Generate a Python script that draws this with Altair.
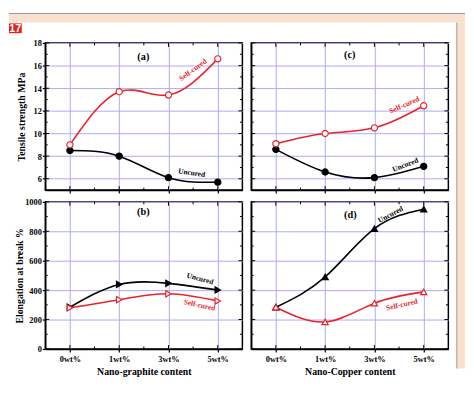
import json
import altair as alt
import pandas as pd

# ---------------- data ----------------
x_labels = ["0wt%", "1wt%", "3wt%", "5wt%"]
x_idx = [0, 1, 2, 3]
x_minor = [0.5, 1.5, 2.5]

# (a) Tensile strength, nano-graphite
a_self = [9.0, 13.7, 13.4, 16.6]
a_unc = [8.5, 8.0, 6.1, 5.7]
# (c) Tensile strength, nano-copper
c_self = [9.1, 10.0, 10.5, 12.45]
c_unc = [8.6, 6.6, 6.1, 7.1]
# (b) Elongation, nano-graphite
b_self = [280, 335, 375, 326]
b_unc = [284, 439, 446, 401]
# (d) Elongation, nano-copper
d_self = [284, 184, 311, 388]
d_unc = [284, 490, 818, 950]

ts_ticks = [6, 8, 10, 12, 14, 16, 18]
ts_minor = [7, 9, 11, 13, 15, 17]
el_ticks = [0, 200, 400, 600, 800, 1000]
el_minor = [100, 300, 500, 700, 900]

# annotations: (text, index position, value, angle, colour key)
ann_a = [("Self-cured", 2.50, 15.6, 324, "r"), ("Uncured", 2.47, 6.5, 8, "k"), ("(a)", 1.49, 16.8, 0, "p")]
ann_c = [("Self-cured", 2.61, 12.5, 336, "r"), ("Uncured", 2.63, 7.2, 339, "k"), ("(c)", 1.5, 16.95, 0, "p")]
ann_b = [("Uncured", 2.64, 475, 15, "k"), ("Self-cured", 2.63, 296, 12, "r"), ("(b)", 1.49, 934, 0, "p")]
ann_d = [("Uncured", 2.33, 912, 332, "k"), ("Self-cured", 2.56, 299, 347, "r"), ("(d)", 1.51, 907, 0, "p")]

RED = "#e8232b"
FONT = "Liberation Serif"
GRID = "#aaaaf6"
PEACH = "#fae1cf"

W = 201
H = 150
label_expr = json.dumps(x_labels) + "[datum.value]"


def panel(self_vals, unc_vals, shape, ydom, yticks, yminor, ytitle, xtitle, left, bottom, anns, h,
          title_x=-24, extras=None):
    if bottom:
        xaxis = alt.Axis(values=x_idx, labelExpr=label_expr, title=xtitle, grid=True,
                         labelPadding=3, titlePadding=4)
    else:
        xaxis = alt.Axis(values=x_idx, labels=False, title=None, grid=True)
    if left:
        yaxis = alt.Axis(values=yticks, title=ytitle, grid=True, titleX=title_x, titleY=h / 2,
                         titleBaseline="middle", titleAngle=270, format="d")
    else:
        yaxis = alt.Axis(values=yticks, labels=False, title=None, grid=True, ticks=False)
    X = alt.X("i:Q", scale=alt.Scale(domain=[-0.5, 3.5], nice=False, zero=False), axis=xaxis)
    Y = alt.Y("v:Q", scale=alt.Scale(domain=ydom, nice=False, zero=False), axis=yaxis)

    layers = []
    # inward (mirrored) ticks, Origin style
    for vals, ln in [(x_idx, 4), (x_minor, 2.5)]:
        tdf = pd.DataFrame({"i": vals})
        layers.append(alt.Chart(tdf).mark_rule(color="black", strokeWidth=1).encode(
            x=X, y=alt.value(h), y2=alt.value(h - ln)))
        layers.append(alt.Chart(tdf).mark_rule(color="black", strokeWidth=1).encode(
            x=X, y=alt.value(0), y2=alt.value(ln)))
    for vals, ln in [(yticks, 4), (yminor, 2.5)]:
        tdf = pd.DataFrame({"v": vals})
        layers.append(alt.Chart(tdf).mark_rule(color="black", strokeWidth=1).encode(
            y=Y, x=alt.value(0), x2=alt.value(ln)))
        layers.append(alt.Chart(tdf).mark_rule(color="black", strokeWidth=1).encode(
            y=Y, x=alt.value(W - ln), x2=alt.value(W)))

    for vals, col in [(unc_vals, "black"), (self_vals, RED)]:
        df = pd.DataFrame({"i": x_idx, "v": vals})
        layers.append(alt.Chart(df).mark_line(interpolate="natural", color=col, strokeWidth=1.6).encode(x=X, y=Y))
    for vals, col, filled in [(unc_vals, "black", True), (self_vals, RED, False)]:
        df = pd.DataFrame({"i": x_idx, "v": vals})
        layers.append(alt.Chart(df).mark_point(shape=shape, filled=True, fill=col if filled else "white",
                                               stroke=col, strokeWidth=1.2, size=40, opacity=1).encode(x=X, y=Y))
    adf = pd.DataFrame([{"t": t, "i": i, "v": v, "a": a, "k": k} for t, i, v, a, k in anns])
    txt = adf[adf.k != "p"].copy()
    txt["c"] = txt.k.map({"r": RED, "k": "black"})
    layers.append(alt.Chart(txt).mark_text(font=FONT, fontWeight="bold", fontSize=7.5).encode(
        x=X, y=Y, text="t:N", angle=alt.Angle("a:Q", scale=None), color=alt.Color("c:N", scale=None)))
    lab = adf[adf.k == "p"]
    layers.append(alt.Chart(lab).mark_text(font=FONT, fontWeight="bold", fontSize=10.5, color="black").encode(
        x=X, y=Y, text="t:N"))
    if extras:
        layers = extras + layers
    return alt.layer(*layers).properties(width=W, height=h)


one = pd.DataFrame({"z": [0]})
frame = [
    # top grey line and peach strip
    alt.Chart(one).mark_rect(color="#999999").encode(x=alt.value(-37), x2=alt.value(428), y=alt.value(-30.5), y2=alt.value(-29.3)),
    alt.Chart(one).mark_rect(color=PEACH).encode(x=alt.value(-37), x2=alt.value(428), y=alt.value(-29.3), y2=alt.value(-21)),
    # right strip
    alt.Chart(one).mark_rect(color=PEACH).encode(x=alt.value(420), x2=alt.value(428), y=alt.value(-21), y2=alt.value(332)),
    alt.Chart(one).mark_rect(color="#b9a99c").encode(x=alt.value(419), x2=alt.value(420.3), y=alt.value(-21), y2=alt.value(332)),
    # badge
    alt.Chart(one).mark_rect(color="#e0201c").encode(x=alt.value(-37), x2=alt.value(-24), y=alt.value(-20), y2=alt.value(-10)),
    alt.Chart(one).mark_text(text="17", color="white", font="Liberation Sans", fontWeight="bold", fontSize=11).encode(
        x=alt.value(-30.5), y=alt.value(-14.5)),
]

pa = panel(a_self, a_unc, "circle", [5, 18], ts_ticks, ts_minor, "Tensile strength MPa", None, True, False, ann_a, H, -24, frame)
pc = panel(c_self, c_unc, "circle", [5, 18], ts_ticks, ts_minor, None, None, False, False, ann_c, H)
pb = panel(b_self, b_unc, "triangle-right", [0, 1000], el_ticks, el_minor, "Elongation at break %", "Nano-graphite content", True, True, ann_b, H, -26)
pd_ = panel(d_self, d_unc, "triangle-up", [0, 1000], el_ticks, el_minor, None, "Nano-Copper content", False, True, ann_d, H)

chart = alt.concat(
    pa, pc, pb, pd_, columns=2,
    spacing=alt.RowColnumber(row=12, column=9), bounds="flush",
).properties(padding=0, background="white").configure_axis(
    labelFont=FONT, labelFontWeight="bold", labelFontSize=8.5, labelColor="black", labelPadding=1,
    titleFont=FONT, titleFontWeight="bold", titleFontSize=10, titleColor="black",
    domainColor="black", domainWidth=1.5, tickColor="black", tickSize=3, tickWidth=1.2,
    gridColor=GRID, gridWidth=1, gridOpacity=1,
).configure_view(stroke="black", strokeWidth=1.5)

chart.save("out.html", embed_options={"renderer": "svg", "actions": False})
